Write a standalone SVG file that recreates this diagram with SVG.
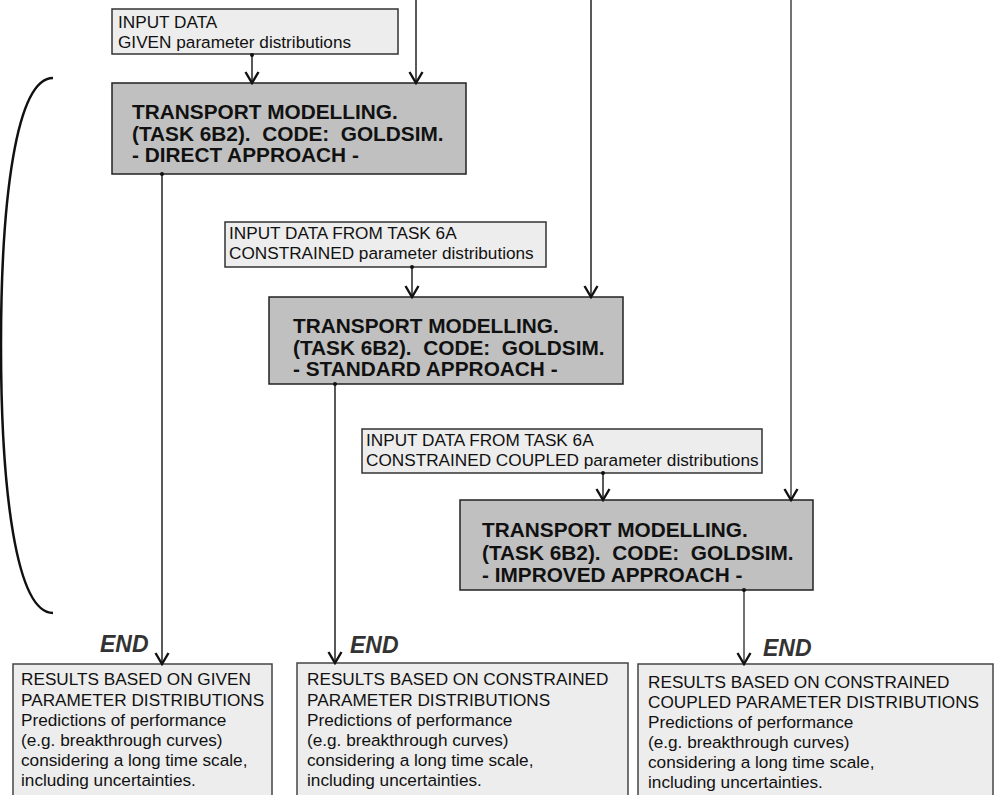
<svg xmlns="http://www.w3.org/2000/svg" width="994" height="795" viewBox="0 0 994 795">
<style>
  .inp { fill: #ededed; stroke: #333; stroke-width: 1.5; }
  .res { fill: #ededed; stroke: #444; stroke-width: 1.5; }
  .tm { fill: #c0c0c0; stroke: #222; stroke-width: 1.5; }
  .t { font-family: "Liberation Sans", Arial, sans-serif; font-size: 17.2px; fill: #111; }
  .tb { font-family: "Liberation Sans", Arial, sans-serif; font-size: 20.8px; font-weight: bold; fill: #111; white-space: pre; }
  .end { font-family: "Liberation Sans", Arial, sans-serif; font-size: 23px; font-weight: bold; font-style: italic; fill: #333; }
  .ln { stroke: #222; stroke-width: 1.5; fill: none; }
  .ln2 { stroke: #444; stroke-width: 1.5; fill: none; }
  .dot { fill: #111; }
</style>
<defs>
  <marker id="arr" markerUnits="userSpaceOnUse" viewBox="-13 -8 15 16" refX="0" refY="0" markerWidth="15" markerHeight="16" orient="auto">
    <path d="M-11,-6.5 L0,0 L-11,6.5" fill="none" stroke="#111" stroke-width="2.4"/>
  </marker>
</defs>

<g id="bracket">
  <path d="M53,78 C16,78 1,200 1,345 C1,490 16,613 53,613" fill="none" stroke="#111" stroke-width="2.5"/>
</g>

<g id="input1">
  <rect class="inp" x="112" y="9" width="286" height="45"/>
  <text class="t" x="118" y="28">INPUT DATA</text>
  <text class="t" x="118" y="48">GIVEN parameter distributions</text>
</g>

<g id="transport1">
  <rect class="tm" x="112" y="83" width="354" height="91"/>
  <text class="tb" x="132" y="119">TRANSPORT MODELLING.</text>
  <text class="tb" x="132" y="140.5">(TASK 6B2).  CODE:  GOLDSIM.</text>
  <text class="tb" x="132" y="162">- DIRECT APPROACH -</text>
</g>

<g id="input2">
  <rect class="inp" x="225" y="222" width="321" height="45"/>
  <text class="t" x="229" y="239">INPUT DATA FROM TASK 6A</text>
  <text class="t" x="229" y="259">CONSTRAINED parameter distributions</text>
</g>

<g id="transport2">
  <rect class="tm" x="269" y="297" width="354" height="87"/>
  <text class="tb" x="293" y="333">TRANSPORT MODELLING.</text>
  <text class="tb" x="293" y="354.5">(TASK 6B2).  CODE:  GOLDSIM.</text>
  <text class="tb" x="293" y="376">- STANDARD APPROACH -</text>
</g>

<g id="input3">
  <rect class="inp" x="362" y="429" width="400" height="44"/>
  <text class="t" x="366" y="446">INPUT DATA FROM TASK 6A</text>
  <text class="t" x="366" y="466">CONSTRAINED COUPLED parameter distributions</text>
</g>

<g id="transport3">
  <rect class="tm" x="460" y="500" width="353" height="90"/>
  <text class="tb" x="482" y="537">TRANSPORT MODELLING.</text>
  <text class="tb" x="482" y="559.5">(TASK 6B2).  CODE:  GOLDSIM.</text>
  <text class="tb" x="482" y="582">- IMPROVED APPROACH -</text>
</g>

<g id="result1">
  <rect class="res" x="13" y="664" width="259" height="140"/>
  <text class="t" font-size="17.5" x="21" y="685">RESULTS BASED ON GIVEN</text>
  <text class="t" font-size="17.5" x="21" y="706">PARAMETER DISTRIBUTIONS</text>
  <text class="t" font-size="17.5" x="21" y="726">Predictions of performance</text>
  <text class="t" font-size="17.5" x="21" y="746">(e.g. breakthrough curves)</text>
  <text class="t" font-size="17.5" x="21" y="766">considering a long time scale,</text>
  <text class="t" font-size="17.5" x="21" y="786">including uncertainties.</text>
</g>

<g id="result2">
  <rect class="res" x="297" y="663" width="331" height="140"/>
  <text class="t" font-size="17.5" x="307" y="685">RESULTS BASED ON CONSTRAINED</text>
  <text class="t" font-size="17.5" x="307" y="706">PARAMETER DISTRIBUTIONS</text>
  <text class="t" font-size="17.5" x="307" y="726">Predictions of performance</text>
  <text class="t" font-size="17.5" x="307" y="746">(e.g. breakthrough curves)</text>
  <text class="t" font-size="17.5" x="307" y="766">considering a long time scale,</text>
  <text class="t" font-size="17.5" x="307" y="786">including uncertainties.</text>
</g>

<g id="result3">
  <rect class="res" x="638" y="664" width="355" height="140"/>
  <text class="t" font-size="17.5" x="648" y="688">RESULTS BASED ON CONSTRAINED</text>
  <text class="t" font-size="17.5" x="648" y="708">COUPLED PARAMETER DISTRIBUTIONS</text>
  <text class="t" font-size="17.5" x="648" y="728">Predictions of performance</text>
  <text class="t" font-size="17.5" x="648" y="748">(e.g. breakthrough curves)</text>
  <text class="t" font-size="17.5" x="648" y="768">considering a long time scale,</text>
  <text class="t" font-size="17.5" x="648" y="788">including uncertainties.</text>
</g>

<g id="end-labels">
  <text class="end" x="100" y="652">END</text>
  <text class="end" x="350" y="653">END</text>
  <text class="end" x="763" y="656">END</text>
</g>

<g id="connectors">
  <line class="ln" x1="416" y1="0" x2="416" y2="83" marker-end="url(#arr)"/>
  <line class="ln" x1="591" y1="0" x2="591" y2="297" marker-end="url(#arr)"/>
  <line class="ln2" x1="791" y1="0" x2="791" y2="500" marker-end="url(#arr)"/>

  <line class="ln" x1="252" y1="55" x2="252" y2="83" marker-end="url(#arr)"/>
  <circle class="dot" cx="252" cy="55" r="2"/>
  <line class="ln" x1="412" y1="267" x2="412" y2="297" marker-end="url(#arr)"/>
  <circle class="dot" cx="412" cy="267" r="2"/>
  <line class="ln" x1="603" y1="473" x2="603" y2="500" marker-end="url(#arr)"/>
  <circle class="dot" cx="603" cy="473" r="2"/>

  <line class="ln" x1="162" y1="174" x2="162" y2="664" marker-end="url(#arr)"/>
  <circle class="dot" cx="162" cy="174" r="2"/>
  <line class="ln" x1="335" y1="384" x2="335" y2="663" marker-end="url(#arr)"/>
  <circle class="dot" cx="335" cy="384" r="2"/>
  <line class="ln2" x1="744" y1="590" x2="744" y2="664" marker-end="url(#arr)"/>
  <circle class="dot" cx="744" cy="590" r="2"/>
</g>
</svg>
